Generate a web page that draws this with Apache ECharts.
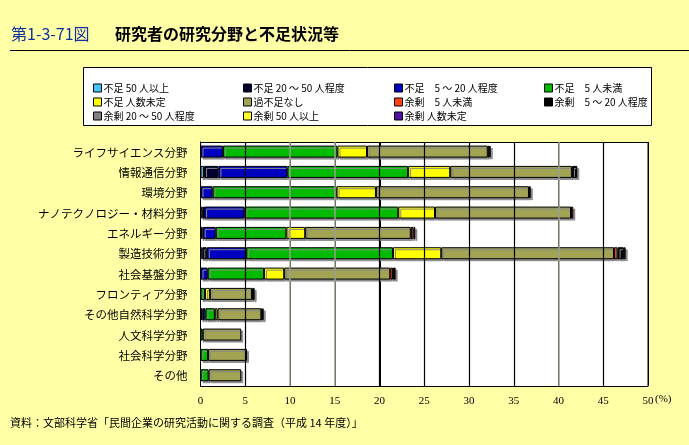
<!DOCTYPE html>
<html>
<head>
<meta charset="utf-8">
<script src="https://cdn.jsdelivr.net/npm/echarts@6/dist/echarts.min.js"></script>
<style>html,body{margin:0;padding:0;background:#FFFFA6;}#c{width:689px;height:445px;}</style>
</head>
<body>
<div id="c"></div>
<script>
const categories = ['ライフサイエンス分野','情報通信分野','環境分野','ナノテクノロジー・材料分野','エネルギー分野','製造技術分野','社会基盤分野','フロンティア分野','その他自然科学分野','人文科学分野','社会科学分野','その他'];
const seriesNames = ['不足 50 人以上','不足 20 ～ 50 人程度','不足　5 ～ 20 人程度','不足　5 人未満','不足 人数未定','過不足なし','余剰　5 人未満','余剰　5 ～ 20 人程度','余剰 20 ～ 50 人程度','余剰 50 人以上','余剰 人数未定'];
const seriesColors = ['#40C8F8','#000030','#0000C0','#00BB00','#FFFF00','#A2A454','#FF4010','#000000','#808080','#FFFF30','#5010A0'];
const shortage50 = [0,0.4,0,0.2,0,0.2,0,0,0,0,0,0];
const shortage20to50 = [0,1.6,0,0.2,0.25,0.5,0,0,0.25,0,0,0];
const shortage5to20 = [2.5,7.7,1.35,4.5,1.45,4.4,0.8,0,0.3,0,0,0];
const shortageUnder5 = [12.8,13.5,13.85,17.2,7.9,16.4,6.3,0.5,1.05,0.25,0.85,0.9];
const shortageUndecided = [3.3,4.7,4.4,4.1,2.1,5.4,2.25,0.55,0.3,0,0,0];
const balanced = [13.5,13.6,17.1,15.2,11.8,19.3,11.85,4.7,4.9,4.3,4.35,3.65];
const surplusUnder5 = [0.2,0,0.2,0.25,0.3,0.4,0.3,0,0.1,0,0,0];
const surplus5to20 = [0.1,0.6,0,0,0,0.7,0.3,0.3,0.15,0,0,0];
const surplus20to50 = [0,0,0,0,0,0,0,0,0,0,0,0];
const surplus50 = [0,0,0,0,0,0,0,0,0,0,0,0];
const surplusUndecided = [0,0,0,0,0.2,0.2,0,0,0,0,0,0];
const grayGridTicks = [10,15,40];
const blackGridTicks = [5,20,25,30,35,45];

const allData = [shortage50,shortage20to50,shortage5to20,shortageUnder5,shortageUndecided,balanced,surplusUnder5,surplus5to20,surplus20to50,surplus50,surplusUndecided];

const jp = '"Noto Sans CJK JP", sans-serif';
const series = allData.map((d,i)=>({
  name: seriesNames[i],
  type: 'bar',
  stack: 'total',
  barWidth: 12,
  z: 3,
  data: d.map(v => v === 0 ? '-' : v),
  itemStyle: {color: seriesColors[i], borderColor:'#000', borderWidth:1, shadowColor:'#8a8a8a', shadowOffsetX:2, shadowOffsetY:2, shadowBlur:0},
  emphasis: {disabled:true},
  animation: false
}));
const gridLineData = grayGridTicks.map(v=>({xAxis:v, lineStyle:{color:'#98A090', width:1.5, type:'solid'}}))
  .concat(blackGridTicks.map(v=>({xAxis:v, lineStyle:{color:'#000000', width:1.2, type:'solid'}})));
series.push({
  name:'grid-lines', type:'bar', z:2, data: categories.map(()=>'-'),
  markLine:{silent:true, symbol:['none','none'], animation:false, label:{show:false},
    lineStyle:{color:'#98A090', width:1.5, type:'solid'},
    data: gridLineData}
});

const cols = [[0,4,8],[1,5,9],[2,6,10],[3,7]];
const colX = [88,238,389,539];
const legends = cols.map((c,k)=>({
  orient:'vertical', left: colX[k], top: 77,
  icon:'rect',
  itemWidth: 8, itemHeight: 8, itemGap: 2,
  selectedMode:false,
  data: c.map(i=>({name: seriesNames[i], icon:'rect', itemStyle:{color: seriesColors[i], borderColor:'#000', borderWidth:1}})),
  textStyle:{fontFamily: jp, fontSize: 10, color:'#000', lineHeight: 12, padding:[0,0,0,-3]}
}));

const baseGraphic = [
  {id:'legendBox', type:'rect', z:-5, shape:{x:83.5, y:67.5, width:568, height:58}, style:{fill:'#fff', stroke:'#000', lineWidth:1}},
  {id:'plotBox', type:'rect', z:-5, shape:{x:200.5, y:142.5, width:447.5, height:244}, style:{fill:'#fff', stroke:'#000', lineWidth:1}},
  {id:'t1', type:'text', left:11, top:26, style:{text:'第1-3-71図', fill:'#1030A0', font:'16px "Noto Sans CJK JP", sans-serif'}},
  {id:'t2', type:'text', left:115, top:26, style:{text:'研究者の研究分野と不足状況等', fill:'#000', font:'bold 16px "Noto Sans CJK JP", sans-serif'}},
  {id:'rule', type:'line', shape:{x1:10, y1:50.5, x2:689, y2:50.5}, style:{stroke:'#000', lineWidth:1}},
  {id:'unit', type:'text', left:655, top:394, style:{text:'(%)', fill:'#000', font:'11px "Liberation Serif", serif'}},
  {id:'src', type:'text', left:10, top:417, style:{text:'資料：文部科学省「民間企業の研究活動に関する調査（平成 14 年度）」', fill:'#000', font:'11px "Noto Sans CJK JP", sans-serif'}}
];

const chart = echarts.init(document.getElementById('c'));
chart.setOption({
  backgroundColor:'#FFFFA6',
  animation:false,
  grid:{left:200.5, right:41, top:142, bottom:59, show:false},
  legend: legends,
  xAxis:{type:'value', min:0, max:50, interval:5, z:1,
    axisLine:{show:false}, axisTick:{show:false},
    splitLine:{show:true, lineStyle:{color:'#000', width:1, type:'solid'}},
    axisLabel:{color:'#000', fontFamily:'"Liberation Serif", serif', fontSize:11, margin:10}},
  yAxis:{type:'category', data:categories, inverse:true, z:1,
    axisLine:{show:true, lineStyle:{color:'#000'}}, axisTick:{show:false},
    splitLine:{show:false},
    axisLabel:{color:'#000', fontFamily: jp, fontSize:11.5, margin:13}},
  graphic: baseGraphic,
  series: series
});

// extra black gridlines positioned through the library's x scale
const blackLines = blackGridTicks.map((v,i)=>{
  const px = Math.round(chart.convertToPixel({xAxisIndex:0}, v)) + 0.5;
  return {id:'g'+i, type:'line', z:1, silent:true, shape:{x1:px, y1:143, x2:px, y2:386}, style:{stroke:'#000', lineWidth:1}};
});
chart.setOption({graphic: baseGraphic.concat(blackLines)});
</script>
</body>
</html>
